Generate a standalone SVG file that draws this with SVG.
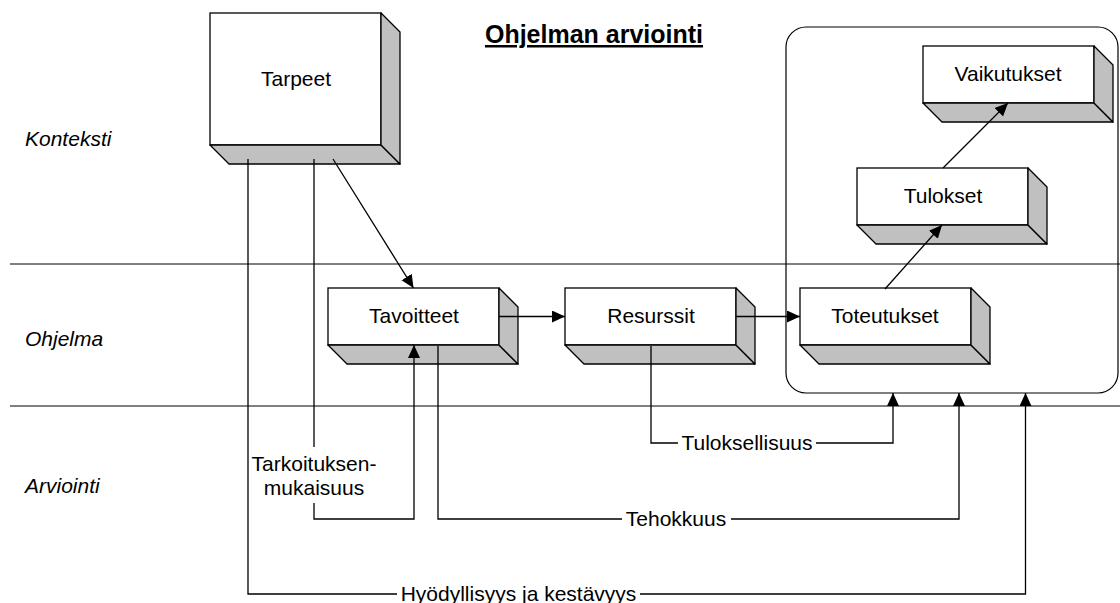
<svg xmlns="http://www.w3.org/2000/svg" width="1120" height="603" viewBox="0 0 1120 603">
<style>
text{font-family:"Liberation Sans",Arial,sans-serif;font-size:21px;fill:#000}
.lbl{text-anchor:middle}
.lane{font-style:italic}
.title{font-weight:bold;font-size:25px;text-anchor:middle;text-decoration:underline}
.front{fill:#fff;stroke:#000;stroke-width:1.3}
.side{fill:#c0c0c0;stroke:#000;stroke-width:1.3;stroke-linejoin:round}
.sep{stroke:#000;stroke-width:1;fill:none}
.con{stroke:#000;stroke-width:1.3;fill:none}
</style>
<defs>
<marker id="ah" markerUnits="userSpaceOnUse" markerWidth="14" markerHeight="13" refX="13" refY="6" orient="auto">
<path d="M0,0 L13,6 L0,12 z" fill="#000"/>
</marker>
</defs>
<rect width="1120" height="603" fill="#fff"/>
<g id="lanes">
<line class="sep" x1="10" y1="264" x2="1120" y2="264"/>
<line class="sep" x1="10" y1="406" x2="1120" y2="406"/>
<text class="lane" x="25" y="146">Konteksti</text>
<text class="lane" x="25" y="346">Ohjelma</text>
<text class="lane" x="25" y="493">Arviointi</text>
<text class="title" x="594" y="43">Ohjelman arviointi</text>
</g>
<g id="results-frame">
<rect x="786" y="27" width="332" height="366" rx="20" ry="20" fill="none" stroke="#000" stroke-width="1.2"/>
</g>
<g id="tarpeet">
<rect class="front" x="210" y="13" width="171" height="132"/>
<polygon class="side" points="210,145 381,145 400,164 229,164"/>
<polygon class="side" points="381,13 400,32 400,164 381,145"/>
<text class="lbl" x="296" y="86">Tarpeet</text>
</g>
<g id="tavoitteet">
<rect class="front" x="328" y="288" width="171" height="57"/>
<polygon class="side" points="328,345 499,345 518,364 347,364"/>
<polygon class="side" points="499,288 518,307 518,364 499,345"/>
<text class="lbl" x="414" y="323">Tavoitteet</text>
</g>
<g id="resurssit">
<rect class="front" x="565" y="288" width="171" height="57"/>
<polygon class="side" points="565,345 736,345 755,364 584,364"/>
<polygon class="side" points="736,288 755,307 755,364 736,345"/>
<text class="lbl" x="651" y="323">Resurssit</text>
</g>
<g id="toteutukset">
<rect class="front" x="800" y="288" width="171" height="57"/>
<polygon class="side" points="800,345 971,345 990,364 819,364"/>
<polygon class="side" points="971,288 990,307 990,364 971,345"/>
<text class="lbl" x="885" y="323">Toteutukset</text>
</g>
<g id="tulokset">
<rect class="front" x="857" y="168" width="171" height="57"/>
<polygon class="side" points="857,225 1028,225 1047,244 876,244"/>
<polygon class="side" points="1028,168 1047,187 1047,244 1028,225"/>
<text class="lbl" x="943" y="203">Tulokset</text>
</g>
<g id="vaikutukset">
<rect class="front" x="923" y="46" width="171" height="57"/>
<polygon class="side" points="923,103 1094,103 1113,122 942,122"/>
<polygon class="side" points="1094,46 1113,65 1113,122 1094,103"/>
<text class="lbl" x="1008" y="81">Vaikutukset</text>
</g>
<g id="connectors">
<path class="con" d="M333,159 L413.5,288" marker-end="url(#ah)"/>
<path class="con" d="M499,316.5 H565" marker-end="url(#ah)"/>
<path class="con" d="M736,316.5 H800" marker-end="url(#ah)"/>
<path class="con" d="M885,289 L942,225" marker-end="url(#ah)"/>
<path class="con" d="M943,168 L1008,103" marker-end="url(#ah)"/>
<path class="con" d="M651,346 V443 H678"/>
<path class="con" d="M816,443 H893 V393" marker-end="url(#ah)"/>
<text class="lbl" x="747" y="450">Tuloksellisuus</text>
<path class="con" d="M438,346 V519 H622"/>
<path class="con" d="M731,519 H959 V393" marker-end="url(#ah)"/>
<text class="lbl" x="676" y="526">Tehokkuus</text>
<path class="con" d="M314,159 V447"/>
<path class="con" d="M314,503 V519 H414 V345" marker-end="url(#ah)"/>
<text class="lbl" x="314" y="471">Tarkoituksen-</text>
<text class="lbl" x="314" y="495">mukaisuus</text>
<path class="con" d="M248,159 V594 H397"/>
<path class="con" d="M640,594 H1025.5 V393" marker-end="url(#ah)"/>
<text class="lbl" x="518.5" y="601">Hyödyllisyys ja kestävyys</text>
</g>
</svg>
